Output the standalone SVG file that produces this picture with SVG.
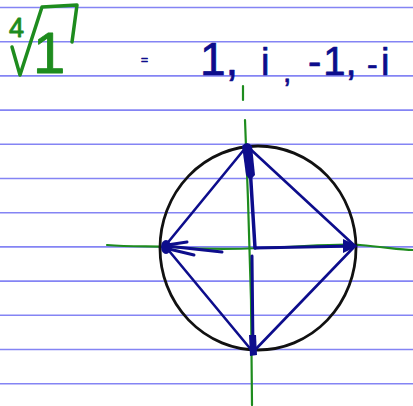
<svg xmlns="http://www.w3.org/2000/svg" width="413" height="406" viewBox="0 0 413 406">
<style>
.rule{stroke:#8484f4;stroke-width:1.6}
.grn{fill:none;stroke:#1e8c1e;stroke-linecap:round;stroke-linejoin:round}
.nav{fill:none;stroke:#0d0d8c;stroke-linecap:round;stroke-linejoin:round}
.tn{font-family:"Liberation Sans",Arial,sans-serif;fill:#0d0d8c;stroke:#0d0d8c;stroke-width:0.7;stroke-linejoin:round}
.tg{font-family:"Liberation Sans",Arial,sans-serif;fill:#1e8c1e;stroke:#1e8c1e;stroke-width:0.9;stroke-linejoin:round}
</style>
<rect width="413" height="406" fill="#ffffff"/>
<g id="paper">
<line class="rule" x1="0" y1="7.5" x2="413" y2="7.5"/>
<line class="rule" x1="0" y1="41.7" x2="413" y2="41.7"/>
<line class="rule" x1="0" y1="75.9" x2="413" y2="75.9"/>
<line class="rule" x1="0" y1="110.1" x2="413" y2="110.1"/>
<line class="rule" x1="0" y1="144.3" x2="413" y2="144.3"/>
<line class="rule" x1="0" y1="178.5" x2="413" y2="178.5"/>
<line class="rule" x1="0" y1="212.7" x2="413" y2="212.7"/>
<line class="rule" x1="0" y1="246.9" x2="413" y2="246.9"/>
<line class="rule" x1="0" y1="281.1" x2="413" y2="281.1"/>
<line class="rule" x1="0" y1="315.3" x2="413" y2="315.3"/>
<line class="rule" x1="0" y1="349.5" x2="413" y2="349.5"/>
<line class="rule" x1="0" y1="383.7" x2="413" y2="383.7"/>
</g>
<g id="root-expression">
<path class="grn" stroke-width="3.5" d="M12,47 L20,75 L42,7 L77,5 L72,42"/>
<text class="tg" x="9" y="37" font-size="27">4</text>
<text class="tg" x="33" y="73" font-size="58">1</text>
</g>
<g id="roots-list">
<text class="tn" x="141" y="64" font-size="12">=</text>
<text class="tn" x="200" y="75" font-size="46">1,</text>
<text class="tn" x="261" y="75" font-size="38">i</text>
<text class="tn" x="283" y="82" font-size="30">,</text>
<text class="tn" x="308" y="75" font-size="40">-<tspan dx="2">1</tspan>,</text>
<text class="tn" x="367" y="75" font-size="32">-</text>
<text class="tn" x="381" y="75" font-size="38">i</text>
</g>
<g id="axes">
<path class="grn" stroke-width="2.2" d="M243,86 L243,100"/>
<path class="grn" stroke-width="2.2" d="M245,120 L248,200 L251,300 L252,405"/>
<path class="grn" stroke-width="2.2" d="M107,245 C130,247 150,246 170,247 C210,250 240,249 260,248 C300,247 340,243 360,245 C385,247 400,250 413,250"/>
</g>
<g id="unit-circle">
<ellipse cx="258" cy="248" rx="98" ry="102" fill="none" stroke="#111111" stroke-width="2.8"/>
</g>
<g id="square">
<path class="nav" stroke-width="2.6" d="M247,146 L355,246 L253,352 L165,246 Z"/>
</g>
<g id="arrows">
<path class="nav" stroke-width="3.5" d="M255,248 L249,150"/>
<path fill="#0d0d8c" d="M242,146 Q247,140 252,146 L255,175 Q250,182 246,175 Z"/>
<path class="nav" stroke-width="3" d="M255,248 L355,246"/>
<path fill="#0d0d8c" d="M343,239 L358,246 L343,253 Z"/>
<path class="nav" stroke-width="3" d="M252,256 L253,350"/>
<path fill="#0d0d8c" d="M249,335 L256,335 L257,355 L250,356 Z"/>
<path class="nav" stroke-width="3" d="M222,252 L167,246"/>
<path class="nav" stroke-width="3" d="M167,245 L187,242 M169,249 L194,255"/>
<ellipse cx="166" cy="247" rx="5" ry="7" fill="#0d0d8c"/>
</g>
</svg>
